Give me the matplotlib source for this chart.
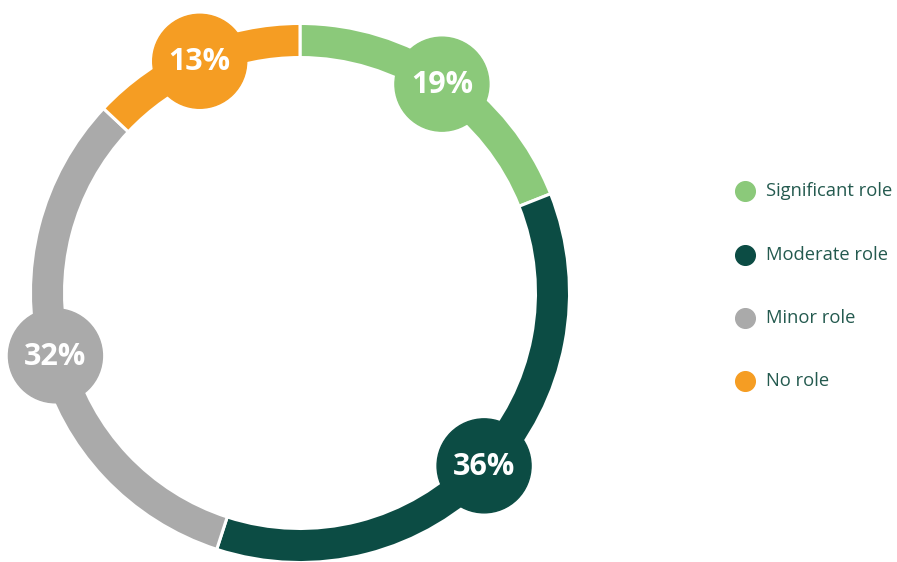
import matplotlib.pyplot as plt
from matplotlib.patches import Circle
import numpy as np

labels = ['Significant role', 'Moderate role', 'Minor role', 'No role']
values = [19, 36, 32, 13]
colors = ['#8bc97a', '#0c4c44', '#aaaaaa', '#f59d23']

W, H = 897, 562
fig = plt.figure(figsize=(W / 100, H / 100), dpi=100)
ax = fig.add_axes([0, 0, 1, 1])

cx, cy = 300, H - 293
r_out, ring = 268, 31
gap = 2.2  # white separator, points
pad = gap * 100 / 72 / 2  # the edge stroke eats into the ring on both sides

ax.pie(values, colors=colors, startangle=90, counterclock=False,
       center=(cx, cy), radius=r_out + pad,
       wedgeprops=dict(width=ring + 2 * pad, edgecolor='white', linewidth=gap))

# label bubbles at the middle of each segment
r_mid = r_out - ring / 2
cum = np.cumsum([0] + values)
for i, v in enumerate(values):
    frac = (cum[i] + v / 2) / sum(values)
    th = 2 * np.pi * frac
    x = cx + r_mid * np.sin(th)
    y = cy + r_mid * np.cos(th)
    ax.add_patch(Circle((x, y), 47, color=colors[i], zorder=3))
    ax.text(x, y - 1, f'{v}%', ha='center', va='center', color='white',
            fontsize=22, fontweight='bold', family='Open Sans', zorder=4)

# legend
ly = [191, 255, 318, 381]
for i, lab in enumerate(labels):
    ax.scatter([745], [H - ly[i]], s=200, color=colors[i], zorder=3)
    ax.text(766, H - ly[i], lab, ha='left', va='center', fontsize=13.2,
            color='#245a4f', family='Open Sans')

ax.set_xlim(0, W)
ax.set_ylim(0, H)
ax.set_aspect('equal')
ax.axis('off')
fig.savefig('out.png', dpi=100, facecolor='white')
